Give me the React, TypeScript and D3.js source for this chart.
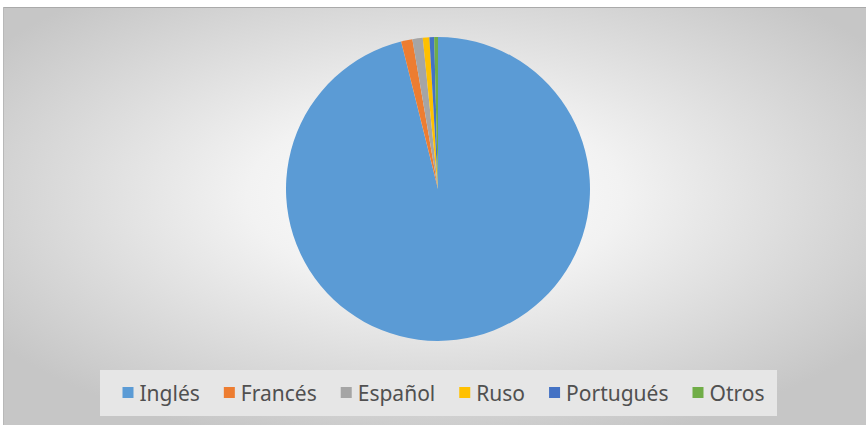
import { useMemo } from 'react'
import * as d3 from 'd3'

const WIDTH = 867
const HEIGHT = 427

// Idiomas (porcentaje)
const categories = ['Inglés', 'Francés', 'Español', 'Ruso', 'Portugués', 'Otros']
const values = [96.1, 1.2, 1.1, 0.7, 0.5, 0.4]
const colors = ['#5B9BD5', '#ED7D31', '#A5A5A5', '#FFC000', '#4472C4', '#70AD47']

const FRAME = { left: 3, top: 7, right: 866, bottom: 425 }
const PIE = { cx: 438, cy: 189, r: 152 }
const LEGEND = { x: 100, y: 370, width: 677, height: 46 }
const FONT_SIZE = 21
const FONT = `${FONT_SIZE}px 'Noto Sans', sans-serif`

function measure(text: string) {
  const ctx = document.createElement('canvas').getContext('2d')
  if (!ctx) return text.length * 10
  ctx.font = FONT
  return ctx.measureText(text).width
}

export default function App() {
  const arcs = useMemo(() => {
    const pie = d3.pie<number>().sort(null).value(d => d)
    return pie(values)
  }, [])

  const arcGen = d3.arc<d3.PieArcDatum<number>>().innerRadius(0).outerRadius(PIE.r)

  // legend layout: marker + gap + text, items separated by a spacing
  const legendItems = useMemo(() => {
    const marker = 11
    const gapText = 6
    const spacing = 24
    const widths = categories.map(c => marker + gapText + measure(c))
    const total = d3.sum(widths) + spacing * (categories.length - 1)
    let x = LEGEND.x + LEGEND.width / 2 - total / 2 + 5
    return categories.map((c, i) => {
      const item = { name: c, x, color: colors[i] }
      x += widths[i] + spacing
      return item
    })
  }, [])

  return (
    <div style={{ position: 'fixed', left: 0, top: 0 }}>
      <svg width={WIDTH} height={HEIGHT} style={{ display: 'block' }}>
        <defs>
          <radialGradient id="bg" cx="0.5" cy="0.45" r="0.62">
            <stop offset="0" stopColor="#ffffff" />
            <stop offset="0.35" stopColor="#f2f2f2" />
            <stop offset="1" stopColor="#c6c6c6" />
          </radialGradient>
        </defs>
        <rect x={0} y={0} width={WIDTH} height={HEIGHT} fill="#ffffff" />
        <rect
          x={FRAME.left}
          y={FRAME.top}
          width={FRAME.right - FRAME.left}
          height={FRAME.bottom - FRAME.top}
          fill="url(#bg)"
        />
        <line x1={FRAME.left} x2={FRAME.right} y1={FRAME.top + 0.5} y2={FRAME.top + 0.5} stroke="#aaaaaa" />
        <line x1={FRAME.left + 0.5} x2={FRAME.left + 0.5} y1={FRAME.top} y2={FRAME.bottom} stroke="#b8b8b8" />

        <g transform={`translate(${PIE.cx}, ${PIE.cy})`}>
          {arcs.map((a, i) => (
            <path key={categories[i]} d={arcGen(a) || ''} fill={colors[i]} />
          ))}
        </g>

        <rect
          x={LEGEND.x}
          y={LEGEND.y}
          width={LEGEND.width}
          height={LEGEND.height}
          fill="#e6e6e6"
        />
        {legendItems.map(item => (
          <g key={item.name}>
            <rect x={item.x} y={LEGEND.y + 17} width={11} height={11} fill={item.color} />
            <text
              x={item.x + 17}
              y={LEGEND.y + 23}
              dominantBaseline="central"
              fontFamily="'Noto Sans', sans-serif"
              fontSize={FONT_SIZE}
              fill="#505050"
            >
              {item.name}
            </text>
          </g>
        ))}
      </svg>
    </div>
  )
}
